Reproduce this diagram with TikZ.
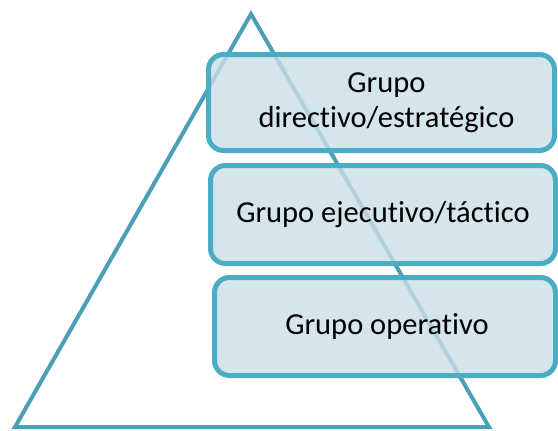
\documentclass[tikz,border=0pt]{standalone}
\usepackage{fontspec}
\setmainfont{Carlito}[RawFeature=-liga]
\definecolor{triline}{HTML}{4A9EB5}
\definecolor{boxline}{HTML}{4BACC6}
\definecolor{boxfill}{RGB}{203,223,231}
\begin{document}
\begin{tikzpicture}[x=1pt,y=-1pt,
  levelbox/.style={draw=boxline, line width=5pt, fill=boxfill, fill opacity=0.8, text opacity=1,
    rounded corners=15pt, align=center, inner sep=0pt,
    font=\fontsize{30.5}{35}\selectfont, text=black}]
\useasboundingbox (0,0) rectangle (558,431);
\draw[triline, line width=4pt, line join=miter] (251,14) -- (489,427) -- (15,427) -- cycle;
\node[levelbox, minimum width=346pt, minimum height=96pt] (b1) at (381.5,102.5) {\hspace*{10pt}Grupo\\\hspace*{10pt}directivo/estratégico};
\node[levelbox, minimum width=345pt, minimum height=98pt] (b2) at (383,214.5) {Grupo ejecutivo/táctico};
\node[levelbox, minimum width=341pt, minimum height=98pt] (b3) at (385,326.5) {\hspace*{4pt}Grupo operativo};
\end{tikzpicture}
\end{document}
